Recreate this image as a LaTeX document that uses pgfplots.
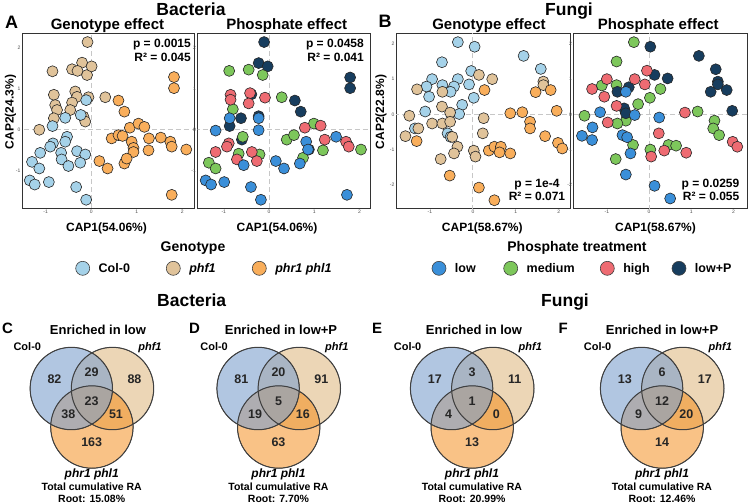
\documentclass[border=0pt]{standalone}
\usepackage{pgfplots}
\pgfplotsset{compat=1.18}
\usepackage{fontspec}
\setmainfont{Liberation Sans}
\definecolor{colCol}{HTML}{A5D2E9}
\definecolor{colPhf}{HTML}{E0C39A}
\definecolor{colPhr}{HTML}{F9AE5B}
\definecolor{colLow}{HTML}{3A8FD9}
\definecolor{colMed}{HTML}{7DC75B}
\definecolor{colHigh}{HTML}{EE6B72}
\definecolor{colLP}{HTML}{173D5E}
\definecolor{vCol}{HTML}{7DA0CD}
\definecolor{vPhf}{HTML}{D9AD6D}
\definecolor{vPhr}{HTML}{F4860E}
\newcommand{\fs}[1]{\fontsize{#1}{#1}\selectfont}
\pgfplotsset{
  sc/.style={scale only axis, anchor=south west, height=175pt,
    axis line style={draw=black!80, line width=0.8pt},
    xtick={-1,0,1,2}, ytick={-2,-1,0,1,2}, major tick length=0pt,
    tick label style={font=\fs{5}, text=black!70},
    xticklabel style={inner sep=1.5pt}, yticklabel style={inner sep=1.5pt},
    /pgf/number format/assume math mode=true},
  pt/.style={only marks, mark=*, mark size=5.5pt, mark options={fill=#1, draw=black!85, line width=0.6pt}, forget plot},
  zl/.style={forget plot, color=black!22, line width=0.9pt, dash pattern=on 5pt off 3pt},
  lg/.style={only marks, mark=*, mark size=7pt, mark options={fill=#1, draw=black!75, line width=0.6pt},
    legend image code/.code={\draw[##1] plot coordinates {(7pt,0pt)};}},
  leg/.style={legend style={draw=none, fill=none, inner sep=0pt, outer sep=0pt,
    font=\bfseries\fs{12.5}, nodes={inner sep=0pt},
    /tikz/every odd column/.style={column sep=9pt},
    /tikz/every even column/.style={column sep=0pt}}, legend cell align=left}
}
\begin{document}
\begin{tikzpicture}
\path[use as bounding box] (0pt,0pt) rectangle (748pt,-504pt);

% ---------- Bacteria: genotype ----------
\begin{axis}[sc, width=172pt, at={(22pt,-208pt)}, xmin=-1.52, xmax=2.26, ymin=-1.90, ymax=2.35,
  leg, legend columns=3, legend style={at={(axis description cs:0.3122,-0.3446)}, anchor=west}]
\addplot[zl] coordinates {(0,-5) (0,5)};
\addplot[zl] coordinates {(-5,0) (5,0)};
\addplot[pt=colPhf] table {
x y
-0.08 2.13
-0.20 1.63
-0.85 1.42
-0.42 1.47
-0.30 1.43
-0.09 1.33
0.01 1.54
-0.35 0.93
-0.31 0.80
-0.82 0.85
-0.79 0.60
-0.75 0.48
-0.42 0.66
-0.06 0.79
-0.17 0.32
-0.13 0.20
-1.14 0.00
-0.82 0.28
0.31 0.79
-0.46 0.48
};
\addplot[pt=colCol] table {
x y
-0.57 0.29
-0.23 0.36
-0.11 0.72
-0.85 0.09
-0.53 -0.17
-0.57 -0.29
-0.84 -0.33
-0.90 -0.41
-0.31 -0.52
-0.13 -0.60
-0.66 -0.56
-1.12 -0.56
-0.65 -0.72
-0.24 -0.80
-0.50 -0.88
-1.30 -0.78
-1.14 -0.94
-1.35 -1.23
-1.24 -1.33
-0.93 -1.27
-0.33 -1.39
-0.11 -1.70
};
\addplot[pt=colPhr] table {
x y
1.82 1.28
1.82 1.01
0.60 0.71
0.73 0.44
0.85 0.05
1.04 0.15
1.17 0.07
0.45 -0.21
0.60 -0.13
0.69 -0.15
0.89 -0.29
0.93 -0.44
0.93 -0.54
1.27 -0.21
1.53 -0.19
1.74 -0.29
1.77 -0.41
2.09 -0.48
1.26 -0.50
0.18 -0.76
0.36 -0.94
0.73 -0.82
0.78 -0.70
1.77 -1.58
};
\addlegendimage{lg=colCol}\addlegendentry{\makebox[67.6pt][l]{Col-0}}
\addlegendimage{lg=colPhf}\addlegendentry{\makebox[63pt][l]{\itshape phf1}}
\addlegendimage{lg=colPhr}\addlegendentry{\itshape phr1 phl1}
\end{axis}

% ---------- Bacteria: phosphate ----------
\begin{axis}[sc, width=173pt, at={(197.5pt,-208pt)}, xmin=-1.58, xmax=2.24, ymin=-1.90, ymax=2.35]
\addplot[zl] coordinates {(0,-5) (0,5)};
\addplot[zl] coordinates {(-5,0) (5,0)};
\addplot[pt=colLP] table {
x y
-0.11 2.13
-0.23 1.62
-0.03 1.54
1.79 1.27
1.79 1.01
-0.39 0.86
0.57 0.71
0.70 0.44
-0.62 0.28
-0.23 0.33
-0.87 0.09
-0.60 -0.24
0.88 -0.48
};
\addplot[pt=colMed] table {
x y
-0.88 1.43
-0.45 1.46
-0.14 1.33
0.28 0.79
-0.80 0.50
0.99 0.15
0.39 -0.24
0.55 -0.13
1.19 -0.50
2.03 -0.48
-0.67 -0.58
-0.21 -0.60
-1.33 -0.80
-1.18 -0.94
0.75 -0.68
-0.58 -0.17
};
\addplot[pt=colHigh] table {
x y
-0.85 0.85
-0.85 0.73
-0.42 0.89
-0.45 0.64
-0.09 0.78
0.79 0.05
1.14 0.10
1.23 -0.24
1.70 -0.29
1.76 -0.41
-0.89 -0.33
-0.93 -0.41
-1.18 -0.54
-0.71 -0.72
-0.38 -0.54
-0.27 -0.76
};
\addplot[pt=colLow] table {
x y
-0.23 0.28
-0.87 0.28
-1.18 -0.02
-0.23 -0.01
1.48 -0.17
0.82 -0.29
0.86 -0.48
0.15 -0.76
0.33 -0.94
0.68 -0.82
-0.56 -0.86
-1.40 -1.23
-1.28 -1.33
-0.99 -1.27
-0.40 -1.39
-0.18 -1.70
1.72 -1.58
};
\end{axis}

% ---------- Fungi: genotype ----------
\begin{axis}[sc, width=174pt, at={(396pt,-208pt)}, xmin=-1.79, xmax=2.26, ymin=-2.66, ymax=2.31]
\addplot[zl] coordinates {(0,-5) (0,5)};
\addplot[zl] coordinates {(-5,0) (5,0)};
\addplot[pt=colCol] table {
x y
-0.35 2.05
0.04 1.92
1.18 1.66
1.58 1.29
-0.72 1.48
-0.04 1.23
-0.95 1.00
-0.35 1.00
-0.71 0.83
-0.44 0.79
-0.09 0.85
-1.08 0.79
-1.02 0.50
-0.52 0.64
-0.25 0.27
0.02 0.47
-1.11 0.08
-0.32 0.01
-0.59 -0.54
-0.52 -0.64
-1.35 -0.40
};
\addplot[pt=colPhf] table {
x y
-1.30 0.71
-0.71 0.64
0.14 1.12
0.45 1.00
1.64 0.93
1.64 0.83
-0.72 0.22
-0.53 0.05
-1.48 -0.04
-0.95 -0.26
-0.71 -0.26
-0.53 -0.21
-1.27 -0.40
-1.57 -0.62
0.25 -0.11
0.23 -0.54
-0.48 -0.64
-0.36 -0.92
-0.44 -1.11
0.02 -1.03
0.06 -1.20
-0.75 -1.27
};
\addplot[pt=colPhr] table {
x y
0.27 0.69
1.46 0.63
1.81 0.69
0.87 0.03
1.15 0.06
1.95 0.10
1.33 -0.21
1.33 -0.40
1.68 -0.62
1.98 -0.81
2.08 -0.97
-1.31 -0.76
0.37 -1.03
0.50 -0.92
0.65 -0.92
0.62 -1.08
0.87 -1.11
-0.54 -1.74
0.14 -2.08
0.50 -2.44
};
\end{axis}

% ---------- Fungi: phosphate ----------
\begin{axis}[sc, width=173.5pt, at={(573.5pt,-208pt)}, xmin=-1.79, xmax=2.32, ymin=-2.66, ymax=2.31,
  leg, legend columns=4, legend style={at={(axis description cs:-0.8156,-0.3446)}, anchor=west}]
\addplot[zl] coordinates {(0,-5) (0,5)};
\addplot[zl] coordinates {(-5,0) (5,0)};
\addplot[pt=colMed] table {
x y
-0.36 2.05
-0.77 1.50
-1.12 0.82
-0.77 0.83
0.27 0.72
0.02 0.47
-0.26 0.29
-1.53 -0.04
-0.55 -0.18
-0.75 -0.26
1.15 0.08
1.55 -0.18
1.52 -0.40
1.66 -0.59
-0.38 -0.87
0.03 -1.00
0.46 -0.87
0.64 -0.89
-0.79 -1.27
};
\addplot[pt=colLP] table {
x y
0.03 1.92
1.18 1.66
1.58 1.28
0.13 1.12
0.44 1.02
1.63 0.93
1.63 0.85
1.46 0.64
1.84 0.69
1.97 0.10
-0.48 0.77
-0.75 0.64
-0.59 0.17
-0.55 0.03
};
\addplot[pt=colHigh] table {
x y
-0.05 1.24
-1.00 1.00
-0.34 1.00
-0.10 0.85
-1.35 0.72
-1.06 0.50
-0.77 0.24
0.85 0.05
-0.98 -0.23
0.23 -0.54
1.98 -0.78
2.09 -0.92
0.36 -1.03
0.05 -1.20
0.88 -1.09
};
\addplot[pt=colLow] table {
x y
-0.55 0.64
-1.16 0.06
-0.34 -0.02
0.24 -0.09
-1.34 -0.37
-1.59 -0.61
-1.35 -0.73
-0.63 -0.59
-0.52 -0.65
-0.44 -1.11
-0.55 -1.71
0.13 -2.03
0.50 -2.39
};
\addlegendimage{lg=colLow}\addlegendentry{\makebox[48.7pt][l]{low}}
\addlegendimage{lg=colMed}\addlegendentry{\makebox[73.6pt][l]{medium}}
\addlegendimage{lg=colHigh}\addlegendentry{\makebox[48.7pt][l]{high}}
\addlegendimage{lg=colLP}\addlegendentry{low+P}
\end{axis}

% ---------- Venn diagrams (page-sized helper axis, units = px, y down) ----------
\begin{axis}[scale only axis, width=748pt, height=504pt, at={(0pt,-504pt)}, anchor=south west,
  xmin=0, xmax=748, ymin=0, ymax=504, y dir=reverse, hide axis, clip=false]
\addplot[only marks, mark=*, mark size=41.2pt, mark options={draw=none, fill=vPhf, fill opacity=0.5}]
  coordinates {(112.5,388.5) (299.3,388.5) (492.8,388.5) (682.8,388.5)};
\addplot[only marks, mark=*, mark size=41.2pt, mark options={draw=none, fill=vPhr, fill opacity=0.5}]
  coordinates {(91.9,427) (278.7,427) (472.2,427) (662.2,427)};
\addplot[only marks, mark=*, mark size=41.2pt, mark options={draw=none, fill=vCol, fill opacity=0.6}]
  coordinates {(71.3,388.5) (258.1,388.5) (451.6,388.5) (641.6,388.5)};
\addplot[only marks, mark=o, mark size=41.2pt, mark options={draw=black!75, line width=1pt}]
  coordinates {(112.5,388.5) (299.3,388.5) (492.8,388.5) (682.8,388.5)
               (91.9,427) (278.7,427) (472.2,427) (662.2,427)
               (71.3,388.5) (258.1,388.5) (451.6,388.5) (641.6,388.5)};
\addplot[draw=none, mark=none, nodes near coords, point meta=explicit symbolic,
  nodes near coords style={anchor=center, font=\bfseries\fs{12.5}, text=black!85}]
  table[meta=label] {
x y label
54.5 379 82
91.7 372 29
134.5 379 88
91.7 401 23
68.3 414 38
116 414 51
91.7 442 163
241.3 379 81
278.5 372 20
321.3 379 91
278.5 401 5
255.1 414 19
302.8 414 16
278.5 442 63
434.8 379 17
472 372 3
514.8 379 11
472 401 1
448.6 414 4
496.3 414 0
472 442 13
624.8 379 13
662 372 6
704.8 379 17
662 401 12
638.6 414 9
686.3 414 20
662 442 14
};
\end{axis}

% ---------- Text ----------
\begin{scope}[every node/.style={inner sep=0pt}]
\node[anchor=base, font=\bfseries\fs{17.5}] at (191pt,-15.5pt) {Bacteria};
\node[anchor=base, font=\bfseries\fs{17.5}] at (569pt,-15.5pt) {Fungi};
\node[anchor=base west, font=\bfseries\fs{18}] at (5pt,-28pt) {A};
\node[anchor=base west, font=\bfseries\fs{18}] at (378.5pt,-27pt) {B};
\node[anchor=base, font=\bfseries\fs{15}] at (107.5pt,-29.5pt) {Genotype effect};
\node[anchor=base, font=\bfseries\fs{15}] at (286.7pt,-29.5pt) {Phosphate effect};
\node[anchor=base, font=\bfseries\fs{15}] at (489pt,-29.5pt) {Genotype effect};
\node[anchor=base, font=\bfseries\fs{15}] at (658.3pt,-29.5pt) {Phosphate effect};
% stats
\node[anchor=base east, font=\bfseries\fs{12}] at (191pt,-47.3pt) {p = 0.0015};
\node[anchor=base east, font=\bfseries\fs{12}] at (191pt,-61.3pt) {R² = 0.045};
\node[anchor=base east, font=\bfseries\fs{12}] at (364pt,-47.3pt) {p = 0.0458};
\node[anchor=base east, font=\bfseries\fs{12}] at (364pt,-61.3pt) {R² = 0.041};
\node[anchor=base, font=\bfseries\fs{12}] at (537pt,-187pt) {p = 1e-4};
\node[anchor=base, font=\bfseries\fs{12}] at (537pt,-200.5pt) {R² = 0.071};
\node[anchor=base east, font=\bfseries\fs{12}] at (739.5pt,-187pt) {p = 0.0259};
\node[anchor=base east, font=\bfseries\fs{12}] at (739.5pt,-200.5pt) {R² = 0.055};
% axis labels
\node[anchor=base, font=\bfseries\fs{12}] at (106.5pt,-231.7pt) {CAP1(54.06\%)};
\node[anchor=base, font=\bfseries\fs{12}] at (277pt,-231.7pt) {CAP1(54.06\%)};
\node[anchor=base, font=\bfseries\fs{12}] at (482.3pt,-231.7pt) {CAP1(58.67\%)};
\node[anchor=base, font=\bfseries\fs{12}] at (655.5pt,-231.7pt) {CAP1(58.67\%)};
\node[rotate=90, anchor=center, font=\bfseries\fs{12}] at (10.5pt,-112pt) {CAP2(24.3\%)};
\node[rotate=90, anchor=center, font=\bfseries\fs{12}] at (381pt,-112pt) {CAP2(22.8\%)};
% legend titles
\node[anchor=base, font=\bfseries\fs{14}] at (193pt,-251.7pt) {Genotype};
\node[anchor=base, font=\bfseries\fs{14}] at (577pt,-251.7pt) {Phosphate treatment};
% Venn headings
\node[anchor=base, font=\bfseries\fs{17.5}] at (191.7pt,-306pt) {Bacteria};
\node[anchor=base, font=\bfseries\fs{17.5}] at (565pt,-306pt) {Fungi};
\node[anchor=base west, font=\bfseries\fs{15}] at (2pt,-333.5pt) {C};
\node[anchor=base west, font=\bfseries\fs{15}] at (189pt,-333.5pt) {D};
\node[anchor=base west, font=\bfseries\fs{15}] at (372pt,-333.5pt) {E};
\node[anchor=base west, font=\bfseries\fs{15}] at (558.5pt,-333.5pt) {F};
\node[anchor=base, font=\bfseries\fs{13}] at (98pt,-334pt) {Enriched in low};
\node[anchor=base, font=\bfseries\fs{13}] at (281pt,-334pt) {Enriched in low+P};
\node[anchor=base, font=\bfseries\fs{13}] at (474pt,-334pt) {Enriched in low};
\node[anchor=base, font=\bfseries\fs{13}] at (662pt,-334pt) {Enriched in low+P};
% set labels
\foreach \cx/\rootv in {91.7/15.08, 278.5/7.70, 472/20.99, 662/12.46}{
  \node[anchor=base, font=\bfseries\fs{11}] at (\cx pt-64.4pt,-350pt) {Col-0};
  \node[anchor=base, font=\bfseries\itshape\fs{11}] at (\cx pt+58.3pt,-350pt) {phf1};
  \node[anchor=base, font=\bfseries\itshape\fs{12}] at (\cx pt,-477pt) {phr1 phl1};
  \node[anchor=base, font=\bfseries\fs{10.5}] at (\cx pt,-490.5pt) {Total cumulative RA};
  \node[anchor=base, font=\bfseries\fs{10.5}] at (\cx pt,-502pt) {Root: \rootv\%};
}
\end{scope}
\end{tikzpicture}
\end{document}
